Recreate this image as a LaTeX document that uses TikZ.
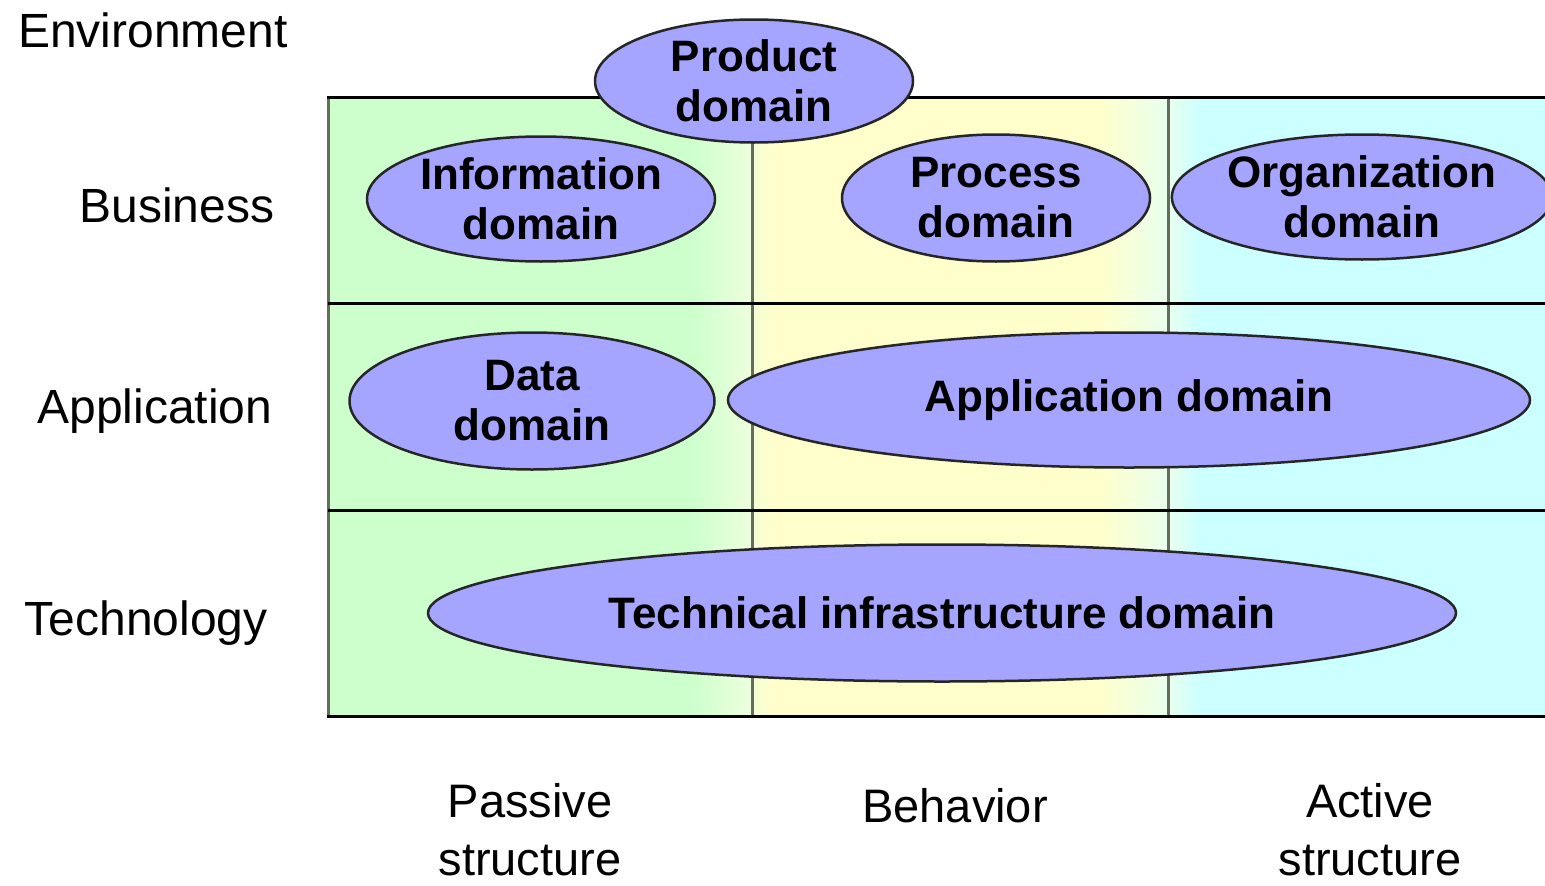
\documentclass[tikz,border=0pt]{standalone}
\usepackage{fontspec}
\setmainfont{Liberation Sans}
\usetikzlibrary{shapes.geometric}
\definecolor{passivegreen}{HTML}{CCFFCC}
\definecolor{behavioryellow}{HTML}{FFFFCC}
\definecolor{activecyan}{HTML}{CCFFFF}
\definecolor{domainblue}{HTML}{A5A5FF}
\definecolor{linegray}{HTML}{646C5C}
\definecolor{fadegreen}{HTML}{EEFFDD}
\definecolor{fadeyellow}{HTML}{F4FFD4}
\definecolor{fadecyan}{HTML}{E8FFEE}

\begin{document}
\begin{tikzpicture}[x=1pt,y=-1pt,
	domainblob/.style={ellipse, draw=black!85, line width=2.5pt, fill=domainblue, inner sep=0pt, align=center, font=\fontsize{44}{50}\selectfont\bfseries},
	layer/.style={anchor=base, font=\fontsize{48}{56}\selectfont},
	aspect/.style={align=center, font=\fontsize{47}{58}\selectfont},
	rowrule/.style={line width=3pt, black},
	colrule/.style={line width=3pt, linegray}]
			\useasboundingbox (0,0) rectangle (1545,886);
			% columns
			\fill[passivegreen] (328,97) rectangle (690,716);
			\shade[left color=passivegreen, right color=fadegreen] (690,97) rectangle (752,716);
			\shade[left color=fadeyellow, right color=behavioryellow] (752,97) rectangle (775,716);
			\fill[behavioryellow] (775,97) rectangle (1100,716);
			\shade[left color=behavioryellow, right color=fadecyan] (1100,97) rectangle (1168,716);
			\shade[left color=fadecyan, right color=activecyan] (1168,97) rectangle (1200,716);
			\fill[activecyan] (1200,97) rectangle (1545,716);
			% grid
			\draw[colrule] (328,97) -- (328,716);
			\draw[colrule] (752,97) -- (752,716);
			\draw[colrule] (1168,97) -- (1168,716);
			\draw[rowrule] (326.5,97) -- (1545,97);
			\draw[rowrule] (328,303) -- (1545,303);
			\draw[rowrule] (328,510) -- (1545,510);
			\draw[rowrule] (326.5,716) -- (1545,716);
			% layers
			\node[layer] (env)  at (153,47)  {Environment};
			\node[layer] (bus)  at (177,222) {Business};
			\node[layer] (app)  at (155,423) {Application};
			\node[layer] (tech) at (146,635) {Technology};
			% aspects
			\node[aspect] (passive)  at (530,830) {Passive\\structure};
			\node[aspect] (behavior) at (955,806) {Behavior};
			\node[aspect] (active)   at (1370,830) {Active\\structure};
			% domains
			\node[domainblob, minimum width=318, minimum height=123]  (prod) at (754,81)   {Product\\domain};
			\node[domainblob, minimum width=348, minimum height=125]  (info) at (541,199)  {Information\\domain};
			\node[domainblob, minimum width=308, minimum height=127]  (proc) at (996,198)  {Process\\domain};
			\node[domainblob, minimum width=375, minimum height=125]  (org)  at (1362,197) {Organization\\domain};
			\node[domainblob, minimum width=365, minimum height=137]  (data) at (532,401)  {Data\\domain};
			\node[domainblob, minimum width=802, minimum height=135]  (appd) at (1129,400) {Application domain};
			\node[domainblob, minimum width=1028, minimum height=137] (infra) at (942,613) {Technical infrastructure domain};
		\end{tikzpicture}
\end{document}
